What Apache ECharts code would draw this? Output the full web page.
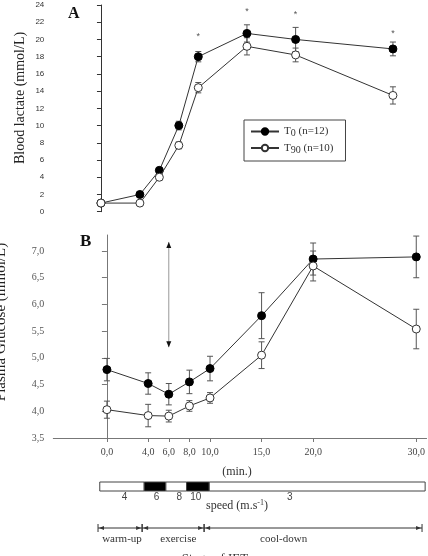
<!DOCTYPE html>
<html>
<head>
<meta charset="utf-8">
<script src="https://cdn.jsdelivr.net/npm/echarts@6/dist/echarts.min.js"></script>
<style>
  html, body { margin: 0; padding: 0; background: #fff; }
  #chart { width: 428px; height: 556px; }
</style>
</head>
<body>
<div id="chart"></div>
<script>
// sampling times (min)
const times = [0, 4, 6, 8, 10, 15, 20, 30];
const groupN = [12, 10];

// panel A : blood lactate (mmol/L)
const lacT0 = [1.0, 2.0, 4.8, 10.0, 18.0, 20.7, 20.0, 18.9];
const lacT0Err = [0.1, 0.2, 0.2, 0.5, 0.6, 1.0, 1.4, 0.8];
const lacT90 = [1.0, 1.0, 4.0, 7.7, 14.4, 19.2, 18.2, 13.5];
const lacT90Err = [0.1, 0.1, 0.3, 0.4, 0.6, 1.0, 0.8, 1.0];
// significance marks (time, level)
const starTimes = [10, 15, 20, 30];
const starLevel = [20.3, 23.3, 22.9, 20.7];

// panel B : plasma glucose (mmol/L)
const gluT0 = [4.78, 4.52, 4.32, 4.55, 4.80, 5.79, 6.85, 6.89];
const gluT0Err = [0.21, 0.20, 0.20, 0.22, 0.23, 0.43, 0.30, 0.39];
const gluT90 = [4.03, 3.92, 3.91, 4.10, 4.25, 5.05, 6.72, 5.54];
const gluT90Err = [0.16, 0.21, 0.11, 0.10, 0.10, 0.25, 0.28, 0.37];
const gluTicks = [3.5, 4.0, 4.5, 5.0, 5.5, 6.0, 6.5, 7.0];
// double arrow at 6 min
const arrowSpan = [6, 5.2, 7.17];

// speed protocol bar
const speedStart = [-0.7, 3.6, 5.7, 7.7, 9.9];
const speedEnd = [3.6, 5.7, 7.7, 9.9, 30.8];
const speedVal = [4, 6, 8, 10, 3];
const speedLabelAt = [1.7, 4.8, 7.0, 8.6, 17.7];
const speedShaded = [0, 1, 0, 1, 0];

// stages
const stageStart = [-0.87, 3.4, 9.4];
const stageEnd = [3.4, 9.4, 30.5];
const stageNames = ['warm-up', 'exercise', 'cool-down'];
const stageLabelAt = [1.45, 6.9, 17.1];

const serif = '"Liberation Serif", "DejaVu Serif", serif';
const sans = '"Liberation Sans", Arial, sans-serif';
const comma = v => v.toFixed(1).replace('.', ',');

function errData(ys, es) {
    return times.map((t, i) => [t, ys[i] - es[i], ys[i] + es[i]]);
}
function errBars(params, api) {
    const lo = api.coord([api.value(0), api.value(1)]);
    const hi = api.coord([api.value(0), api.value(2)]);
    const st = { stroke: '#555', lineWidth: 1 };
    return {
        type: 'group',
        children: [
            { type: 'line', shape: { x1: lo[0], y1: lo[1], x2: hi[0], y2: hi[1] }, style: st },
            { type: 'line', shape: { x1: lo[0] - 3, y1: lo[1], x2: lo[0] + 3, y2: lo[1] }, style: st },
            { type: 'line', shape: { x1: hi[0] - 3, y1: hi[1], x2: hi[0] + 3, y2: hi[1] }, style: st }
        ]
    };
}
const filledStyle = { color: '#000', borderColor: '#000', borderWidth: 1 };
const openStyle = { color: '#fff', borderColor: '#333', borderWidth: 1 };

const myChart = echarts.init(document.getElementById('chart'));
const option = {
    animation: false,
    grid: [
        { left: 52.3, top: 5, width: 360.1, height: 206.7 },
        { left: 53.3, top: 235, width: 373.9, height: 203 },
        { left: 53.3, top: 482, width: 373.9, height: 9 },
        { left: 53.3, top: 520, width: 373.9, height: 16 }
    ],
    xAxis: [
        { gridIndex: 0, type: 'value', min: -5, max: 32, show: false },
        {
            gridIndex: 1, type: 'value', min: -5.2, max: 31,
            splitLine: { show: false },
            axisLine: { lineStyle: { color: '#777' } },
            axisTick: { customValues: times, length: 4, lineStyle: { color: '#777' } },
            axisLabel: { customValues: times, formatter: comma, fontFamily: serif, fontSize: 10, color: '#444', margin: 9 }
        },
        { gridIndex: 2, type: 'value', min: -5.2, max: 31, show: false },
        { gridIndex: 3, type: 'value', min: -5.2, max: 31, show: false }
    ],
    yAxis: [
        {
            gridIndex: 0, type: 'value', min: 0, max: 24, interval: 2,
            splitLine: { show: false },
            axisLine: { show: true, lineStyle: { color: '#333' } },
            axisTick: { show: true, length: 4, lineStyle: { color: '#333' } },
            axisLabel: { fontFamily: sans, fontSize: 8, color: '#333', margin: 8 }
        },
        {
            gridIndex: 1, type: 'value', min: 3.5, max: 7.3,
            splitLine: { show: false },
            axisLine: { show: true, lineStyle: { color: '#777' } },
            axisTick: { show: true, customValues: gluTicks, length: 5, lineStyle: { color: '#777' } },
            axisLabel: { customValues: gluTicks, formatter: comma, fontFamily: serif, fontSize: 10, color: '#555', margin: 9 }
        },
        { gridIndex: 2, type: 'value', min: 0, max: 1, show: false },
        { gridIndex: 3, type: 'value', min: 0, max: 1, show: false }
    ],
    legend: {
        data: ['T0', 'T90'],
        orient: 'vertical',
        left: 244, top: 120,
        padding: [6, 12, 6, 6],
        itemGap: 4,
        itemWidth: 28, itemHeight: 8,
        borderColor: '#444', borderWidth: 1,
        formatter: n => 'T{s|' + n.slice(1) + '} (n=' + groupN[n === 'T0' ? 0 : 1] + ')',
        textStyle: {
            fontFamily: serif, fontSize: 11, color: '#333',
            rich: { s: { fontFamily: serif, fontSize: 10, color: '#333', padding: [4, 0, 0, 0] } }
        }
    },
    series: [
        { type: 'custom', xAxisIndex: 0, yAxisIndex: 0, renderItem: errBars, data: errData(lacT0, lacT0Err), encode: { x: 0, y: [1, 2] }, z: 1, silent: true },
        { type: 'custom', xAxisIndex: 0, yAxisIndex: 0, renderItem: errBars, data: errData(lacT90, lacT90Err), encode: { x: 0, y: [1, 2] }, z: 1, silent: true },
        { name: 'T0', type: 'line', xAxisIndex: 0, yAxisIndex: 0, data: times.map((t, i) => [t, lacT0[i]]),
          symbol: 'circle', symbolSize: 8, lineStyle: { color: '#333', width: 1 }, itemStyle: filledStyle, z: 3 },
        { name: 'T90', type: 'line', xAxisIndex: 0, yAxisIndex: 0, data: times.map((t, i) => [t, lacT90[i]]),
          symbol: 'circle', symbolSize: 8, lineStyle: { color: '#333', width: 1 }, itemStyle: openStyle, z: 4 },
        {
            type: 'custom', xAxisIndex: 0, yAxisIndex: 0, silent: true,
            data: starTimes.map((t, i) => [t, starLevel[i]]),
            renderItem: (params, api) => {
                const p = api.coord([api.value(0), api.value(1)]);
                return { type: 'text', x: p[0], y: p[1], style: { text: '*', fill: '#555', font: '9px ' + sans, align: 'center', verticalAlign: 'middle' } };
            }
        },

        { type: 'custom', xAxisIndex: 1, yAxisIndex: 1, renderItem: errBars, data: errData(gluT0, gluT0Err), encode: { x: 0, y: [1, 2] }, z: 1, silent: true },
        { type: 'custom', xAxisIndex: 1, yAxisIndex: 1, renderItem: errBars, data: errData(gluT90, gluT90Err), encode: { x: 0, y: [1, 2] }, z: 1, silent: true },
        { name: 'T0', type: 'line', xAxisIndex: 1, yAxisIndex: 1, data: times.map((t, i) => [t, gluT0[i]]),
          symbol: 'circle', symbolSize: 8, lineStyle: { color: '#333', width: 1 }, itemStyle: filledStyle, z: 3 },
        { name: 'T90', type: 'line', xAxisIndex: 1, yAxisIndex: 1, data: times.map((t, i) => [t, gluT90[i]]),
          symbol: 'circle', symbolSize: 8, lineStyle: { color: '#333', width: 1 }, itemStyle: openStyle, z: 4 },
        {
            type: 'custom', xAxisIndex: 1, yAxisIndex: 1, silent: true,
            data: [arrowSpan],
            renderItem: (params, api) => {
                const a = api.coord([api.value(0), api.value(1)]);
                const b = api.coord([api.value(0), api.value(2)]);
                return {
                    type: 'group', children: [
                        { type: 'line', shape: { x1: a[0], y1: a[1], x2: b[0], y2: b[1] }, style: { stroke: '#999', lineWidth: 1 } },
                        { type: 'polygon', shape: { points: [[b[0], b[1]], [b[0] - 2.5, b[1] + 6], [b[0] + 2.5, b[1] + 6]] }, style: { fill: '#111' } },
                        { type: 'polygon', shape: { points: [[a[0], a[1]], [a[0] - 2.5, a[1] - 6], [a[0] + 2.5, a[1] - 6]] }, style: { fill: '#111' } }
                    ]
                };
            }
        },

        {
            type: 'custom', xAxisIndex: 2, yAxisIndex: 2, silent: true,
            data: speedVal.map((v, i) => [speedStart[i], speedEnd[i], speedLabelAt[i], v, speedShaded[i]]),
            renderItem: (params, api) => {
                const p0 = api.coord([api.value(0), 1]);
                const p1 = api.coord([api.value(1), 0]);
                const lp = api.coord([api.value(2), 0]);
                return {
                    type: 'group', children: [
                        { type: 'rect', shape: { x: p0[0], y: p0[1], width: p1[0] - p0[0], height: p1[1] - p0[1] },
                          style: { fill: api.value(4) ? '#000' : '#fff', stroke: '#444', lineWidth: 1 } },
                        { type: 'text', x: lp[0], y: lp[1] + 6, style: { text: String(api.value(3)), fill: '#444', font: '10px ' + sans, align: 'center', verticalAlign: 'middle' } }
                    ]
                };
            }
        },
        {
            type: 'custom', xAxisIndex: 3, yAxisIndex: 3, silent: true,
            data: stageNames.map((n, i) => [stageStart[i], stageEnd[i], stageLabelAt[i], n]),
            renderItem: (params, api) => {
                const a = api.coord([api.value(0), 0.5]);
                const b = api.coord([api.value(1), 0.5]);
                const lp = api.coord([api.value(2), 0.5]);
                const st = { stroke: '#333', lineWidth: 1 };
                return {
                    type: 'group', children: [
                        { type: 'line', shape: { x1: a[0], y1: a[1], x2: b[0], y2: b[1] }, style: st },
                        { type: 'line', shape: { x1: a[0], y1: a[1] - 4, x2: a[0], y2: a[1] + 4 }, style: st },
                        { type: 'line', shape: { x1: b[0], y1: b[1] - 4, x2: b[0], y2: b[1] + 4 }, style: st },
                        { type: 'polygon', shape: { points: [[a[0] + 1, a[1]], [a[0] + 6, a[1] - 2], [a[0] + 6, a[1] + 2]] }, style: { fill: '#333' } },
                        { type: 'polygon', shape: { points: [[b[0] - 1, b[1]], [b[0] - 6, b[1] - 2], [b[0] - 6, b[1] + 2]] }, style: { fill: '#333' } },
                        { type: 'text', x: lp[0], y: lp[1] + 11, style: { text: api.value(3), fill: '#333', font: '11px ' + serif, align: 'center', verticalAlign: 'middle' } }
                    ]
                };
            }
        }
    ],
    graphic: [
        { type: 'text', left: 68, top: 6, style: { text: 'A', font: 'bold 16px ' + serif, fill: '#111' } },
        { type: 'text', left: 80, top: 233, style: { text: 'B', font: 'bold 17px ' + serif, fill: '#111' } },
        { type: 'text', x: 20, y: 98, rotation: Math.PI / 2,
          style: { text: 'Blood lactate (mmol/L)', font: '14px ' + serif, fill: '#222', align: 'center', verticalAlign: 'middle' } },
        { type: 'text', x: 1, y: 322, rotation: Math.PI / 2,
          style: { text: 'Plasma Glucose (mmol/L)', font: '15px ' + serif, fill: '#222', align: 'center', verticalAlign: 'middle' } },
        { type: 'text', x: 237, y: 472, style: { text: '(min.)', font: '12px ' + serif, fill: '#333', align: 'center', verticalAlign: 'middle' } },
        { type: 'text', x: 237, y: 506,
          style: { text: 'speed (m.s{sup|-1})', font: '12px ' + serif, fill: '#333', align: 'center', verticalAlign: 'middle',
                   rich: { sup: { font: '8px ' + serif, fill: '#333', padding: [0, 0, 7, 0] } } } },
        { type: 'text', x: 215, y: 552, style: { text: 'Stage of IET', font: '13px ' + serif, fill: '#333', align: 'center', verticalAlign: 'top' } }
    ]
};
option && myChart.setOption(option);
</script>
</body>
</html>
